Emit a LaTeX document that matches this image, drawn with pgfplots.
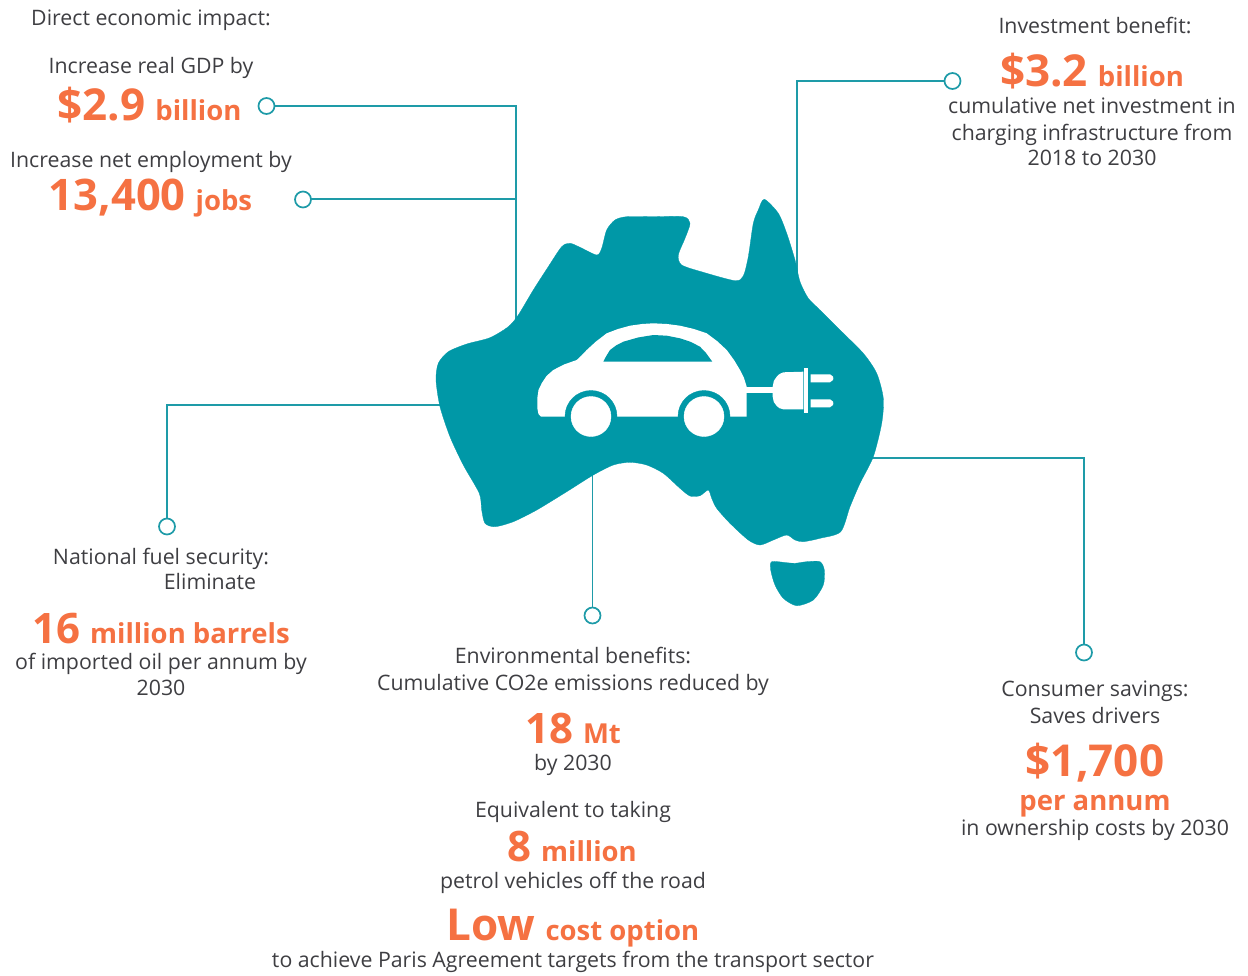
\documentclass[border=0pt]{standalone}
\usepackage{pgfplots}
\pgfplotsset{compat=1.18}
\usepackage{fontspec}
\setmainfont{Open Sans}
\definecolor{teal1}{RGB}{0,152,167}
\definecolor{line1}{RGB}{30,155,168}
\definecolor{org}{RGB}{245,113,66}
\definecolor{txt}{RGB}{62,62,66}
\newcommand{\bd}{\fontsize{21.3}{24}\selectfont\color{txt}}
\newcommand{\nm}[2]{{\fontsize{#1}{#1}\selectfont\bfseries\color{org}#2}}
\newcommand{\gp}{\hspace{10pt}}
\newcommand{\T}[3]{\node[anchor=base,inner sep=0pt] at (axis cs:#1,#2) {#3};}
\begin{document}
\begin{tikzpicture}
\path[use as bounding box] (0,0) rectangle (1248pt,975pt);
\begin{axis}[scale only axis,width=1248pt,height=975pt,xmin=0,xmax=1248,ymin=0,ymax=975,y dir=reverse,axis lines=none,clip=false,at={(0,0)},anchor=south west]
% connector lines
\addplot[line1,line width=1.7pt] coordinates {(274,106)(516,106)(516,322)};
\addplot[line1,line width=1.7pt] coordinates {(311,199)(516,199)};
\addplot[line1,line width=1.7pt] coordinates {(945,81)(797,81)(797,280)};
\addplot[line1,line width=1.7pt] coordinates {(167,519)(167,405)(440,405)};
\addplot[line1,line width=1.7pt] coordinates {(592.5,608)(592.5,470)};
\addplot[line1,line width=1.7pt] coordinates {(1084,645)(1084,458)(870,458)};
% Australia
\addplot[fill=teal1,draw=teal1,line width=0.3pt,smooth,tension=0.45,/tikz/smooth cycle] coordinates {
(764.3,199.3)(778.3,213.3)(786.7,233.3)(795,260)(800,281.7)(808.3,298.3)(820,310)(840,330)(863.3,353.3)(876.7,373.3)(883.3,398.3)(881.7,423.3)(873.3,456.7)(860,483.3)(850,506.7)(840.7,531.7)(820,538.3)(803.3,541.7)(795,540)(786.7,535)(773.3,540)(760,545)(748.3,540)(730,523.3)(716.7,508.3)(711.7,498.3)(708.3,490)(700,495.7)(690,496)(680,488.3)(663.3,473.3)(646.7,465)(630,462.3)(613.3,465)(593.3,475)(566.7,491.7)(536.7,510)(513.3,521.7)(495,526.7)(485,523.3)(481.7,510)(479.3,493.3)(463.3,465)(450,436.7)(440,406.7)(436,380)(438.3,363.3)(448.3,351.7)(466.7,344)(490,337.7)(508.3,326.7)(518.3,315)(533.3,290)(548.3,266.7)(561.7,246.7)(570,243.3)(580,247.3)(596.7,255)(601.7,248.3)(606.7,230)(615,220)(626.7,216.7)(653.3,216.7)(683.3,216.7)(690,223.3)(685,238.3)(678.3,255)(681.7,265)(703.3,272.3)(735,280.7)(743.3,276)(748.3,256.7)(753.3,223.3)(758.3,210)};
% Tasmania
\addplot[fill=teal1,draw=teal1,line width=0.3pt,smooth,tension=0.45,/tikz/smooth cycle] coordinates {
(771.7,561.7)(786.7,562.7)(795,563.3)(806.7,561.7)(820,561.7)(824.3,570)(823.3,585)(813.3,600)(796.7,605.7)(783.3,598.3)(775,585)(770.7,570)};
% car body
\addplot[fill=white,draw=none] coordinates {
(541,416.7)(538.5,414)(537.3,408.3)(537.3,398.3)(538.5,390)(541.7,383.3)(546.5,376)(553.3,370)(564,364.5)(576.7,360)(581.5,355.5)(586.7,350)(596,341.5)(606.7,333.3)(618,329)(630,325.7)(642,324)(653.3,323.3)(667,324)(680,325.7)(694,329)(706.7,333.3)(717,341)(726.7,350)(734,360)(740,370)(744,378)(746.7,386.7)(746.7,416.7)} --cycle;
% window
\addplot[fill=teal1,draw=none] coordinates {
(603.3,361.7)(606,356.5)(610,350)(616,345.5)(623.3,341.7)(638,337.5)(653.3,335)(667,335.7)(680,338.3)(691,342)(700,346.7)(706,353)(712.3,361.7)} --cycle;
% wheel arches and wheels
\addplot[only marks,teal1,mark=*,mark size=26pt,mark options={fill=teal1,draw=teal1}] coordinates {(591,416.5)(704,416.5)};
\addplot[only marks,white,mark=*,mark size=20pt,mark options={fill=white,draw=white}] coordinates {(591,416.5)(704,416.5)};
% cord and plug
\addplot[white,line width=5.5pt] coordinates {(746,390)(774,390)};
\addplot[fill=white,draw=none] coordinates {
(803.3,371.7)(783.3,372.3)(779.5,374)(776.7,376.7)(773.8,381)(772.7,386.7)(772.7,396.7)(773.8,402)(776.7,406)(779.5,408.2)(783.3,409.3)(803.3,409.3)} --cycle;
\addplot[fill=white,draw=none] coordinates {(804.3,368.3)(808.3,368.3)(808.3,412.7)(804.3,412.7)} --cycle;
\addplot[fill=white,draw=none] coordinates {(810.7,374.3)(830,374.3)(833,376.5)(833.3,378.3)(833,380)(830,382.3)(810.7,382.3)} --cycle;
\addplot[fill=white,draw=none] coordinates {(810.7,399.3)(830,399.3)(833,401.5)(833.3,403.3)(833,405)(830,407.3)(810.7,407.3)} --cycle;
% end circles
\addplot[only marks,line1,mark=*,mark size=8pt,mark options={fill=white,draw=line1,line width=1.7pt}] coordinates {(266.5,106)(303,199.5)(952.5,81)(167,526.5)(592.5,615.5)(1084,652.5)};
% text
\T{151}{25.5}{\bd Direct economic impact:}
\T{151}{73.5}{\bd Increase real GDP by}
\T{149.5}{120}{\nm{44}{\$2.9}\gp\nm{27.5}{billion}}
\T{151}{167.5}{\bd Increase net employment by}
\T{150.5}{210.5}{\nm{43.5}{13,400}\gp\nm{27.5}{jobs}}
\T{1095}{33.5}{\bd Investment benefit:}
\T{1092}{86}{\nm{44}{\$3.2}\gp\nm{27.5}{billion}}
\T{1092}{113}{\bd cumulative net investment in}
\T{1092}{140}{\bd charging infrastructure from}
\T{1092}{165.5}{\bd 2018 to 2030}
\T{161}{564}{\bd National fuel security:}
\T{210}{589}{\bd Eliminate}
\T{161}{643}{\nm{42}{16}\gp\nm{27.5}{million barrels}}
\T{161}{669}{\bd of imported oil per annum by}
\T{161}{695.5}{\bd 2030}
\T{573}{663}{\bd Environmental benefits:}
\T{573}{690}{\bd Cumulative CO2e emissions reduced by}
\T{573}{743}{\nm{42}{18}\gp\nm{27.5}{Mt}}
\T{573}{770}{\bd by 2030}
\T{573}{817}{\bd Equivalent to taking}
\T{572}{861}{\nm{42}{8}\gp\nm{27.5}{million}}
\T{573}{888}{\bd petrol vehicles off the road}
\T{573}{940}{\nm{44}{Low}\gp\nm{27.5}{cost option}}
\T{573}{967}{\bd to achieve Paris Agreement targets from the transport sector}
\T{1095}{696}{\bd Consumer savings:}
\T{1095}{723}{\bd Saves drivers}
\T{1095}{776}{\nm{44}{\$1,700}}
\T{1095}{810}{\nm{27.5}{per annum}}
\T{1095}{835}{\bd in ownership costs by 2030}
\end{axis}
\end{tikzpicture}
\end{document}
